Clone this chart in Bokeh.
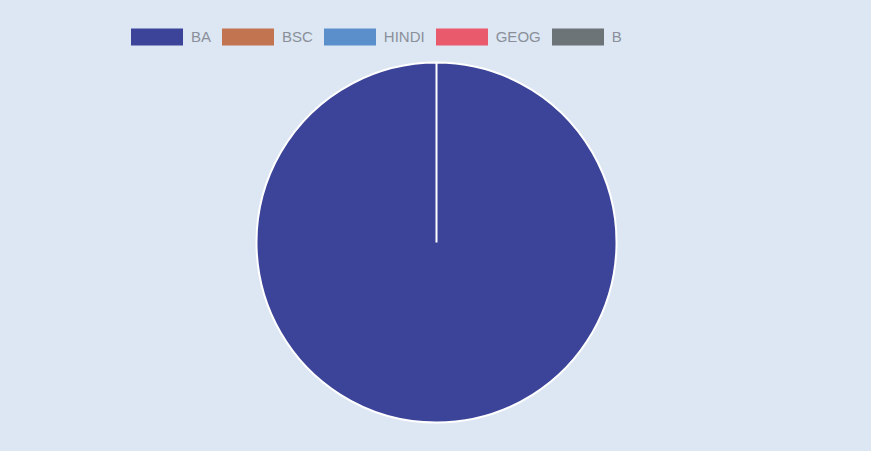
import math
from bokeh.plotting import figure
from bokeh.models import ColumnDataSource, Legend, LegendItem, Range1d, CDSView, IndexFilter
from bokeh.embed import file_html
from bokeh.resources import INLINE

categories = ["BA", "BSC", "HINDI", "GEOG", "B"]
values = [1, 0, 0, 0, 0]
colors = ["#3b4499", "#c27450", "#5b8fcc", "#e95a6c", "#6c7478"]

BG = "#dce7f3"
W, H = 855, 435
total = sum(values)
starts, ends = [], []
acc = 0.0
for v in values:
    a0 = math.pi / 2 - 2 * math.pi * acc / total
    acc += v
    a1 = math.pi / 2 - 2 * math.pi * acc / total
    if v == total:
        a1 += 1e-6
    starts.append(a0)
    ends.append(a1)

src = ColumnDataSource(dict(cat=categories, val=values, start=starts, end=ends,
                            color=colors))

p = figure(width=W, height=H, output_backend="svg", toolbar_location=None,
           x_range=Range1d(0, W), y_range=Range1d(0, H), min_border=0,
           background_fill_color=BG, border_fill_color=BG,
           outline_line_color=None)
p.axis.visible = False
p.grid.visible = False

cx, cy, r = 436, H - 242, 180
nonzero = [i for i, v in enumerate(values) if v > 0]
p.wedge(x=cx, y=cy, radius=r, radius_units="screen",
        start_angle="start", end_angle="end", direction="clock",
        fill_color="color", line_color="white", line_width=2,
        source=src, view=CDSView(filter=IndexFilter(nonzero)))

# legend-only renderer (zero radius, draws nothing in the plot)
leg = p.wedge(x=cx, y=cy, radius=0, radius_units="screen",
              start_angle="start", end_angle="end", direction="clock",
              fill_color="color", line_color=None, source=src)

items = [LegendItem(label=c, renderers=[leg], index=i) for i, c in enumerate(categories)]
legend = Legend(items=items, orientation="horizontal", location=(124, 388),
                glyph_width=65, glyph_height=21, label_standoff=2, spacing=4,
                padding=0, margin=0, border_line_color=None,
                background_fill_alpha=0, label_text_color="#8a8f99",
                label_text_font="Liberation Sans", label_text_font_size="15px")
p.add_layout(legend, "center")

html = file_html(p, INLINE)
html = html.replace("</head>", "<style>html,body{background:%s;}</style></head>" % BG, 1)
open("out.html", "w").write(html)
